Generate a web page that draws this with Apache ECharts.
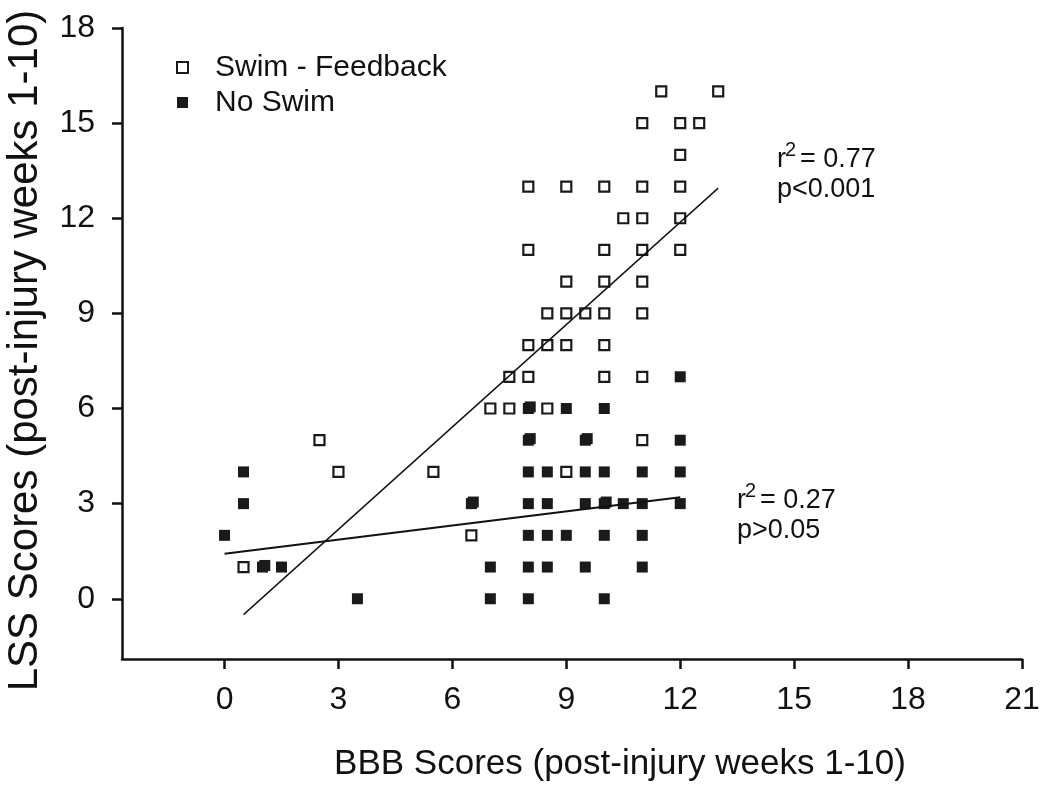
<!DOCTYPE html>
<html>
<head>
<meta charset="utf-8">
<script src="https://cdn.jsdelivr.net/npm/echarts@6/dist/echarts.min.js"></script>
<style>
  html, body { margin: 0; padding: 0; background: #fff; }
  #chart { width: 1050px; height: 791px; }
</style>
</head>
<body>
<div id="chart"></div>
<script>
// ---- Data ----
const xTickValues = [0, 3, 6, 9, 12, 15, 18, 21];
const yTickValues = [0, 3, 6, 9, 12, 15, 18];

// Swim - Feedback (open squares): [BBB, LSS]
const swimFeedback = [
  [0.5, 1], [2.5, 5], [3, 4], [5.5, 4], [6.5, 2], [7, 6], [7.5, 6], [7.5, 7],
  [8, 7], [8, 8], [8, 11], [8, 13], [8.5, 6], [8.5, 8], [8.5, 9],
  [9, 4], [9, 8], [9, 9], [9, 10], [9, 13], [9.5, 9],
  [10, 7], [10, 8], [10, 9], [10, 10], [10, 11], [10, 13], [10.5, 12],
  [11, 5], [11, 7], [11, 9], [11, 10], [11, 11], [11, 12], [11, 13], [11, 15],
  [11.5, 16], [12, 11], [12, 12], [12, 13], [12, 14], [12, 15], [12.5, 15], [13, 16]
];

// No Swim (filled squares): [BBB, LSS]; overlapping pairs appear as slightly larger marks
const noSwim = [
  [0, 2], [0.5, 4], [0.5, 3], [1, 1], [1.06, 1.05], [1.5, 1], [3.5, 0],
  [6.5, 3], [6.55, 3.05], [7, 1], [7, 0],
  [8, 6], [8.05, 6.05], [8, 5], [8.05, 5.05], [8, 4], [8, 3], [8, 2], [8, 1], [8, 0],
  [8.5, 4], [8.5, 3], [8.5, 2], [8.5, 1],
  [9, 6], [9, 2], [9.5, 5], [9.55, 5.05], [9.5, 4], [9.5, 3], [9.5, 1],
  [10, 6], [10, 4], [10, 3], [10.05, 3.05], [10, 2], [10, 0], [10.5, 3],
  [11, 4], [11, 3], [11, 2], [11, 1],
  [12, 7], [12, 5], [12, 4], [12, 3]
];

// Regression line end points
const swimFit = [[0.5, -0.5], [13, 12.95]];
const noSwimFit = [[0, 1.42], [12, 3.2]];

const swimStats = ['0.77', 'p<0.001'];
const noSwimStats = ['0.27', 'p>0.05'];

const FONT = '"Liberation Sans", Arial, Helvetica, sans-serif';

const chart = echarts.init(document.getElementById('chart'), null, { renderer: 'canvas' });

function statText(left, top, r2, p) {
  return [
    { type: 'text', left: left, top: top, style: { text: 'r', font: '27px ' + FONT, fill: '#111' } },
    { type: 'text', left: left + 8, top: top - 6, style: { text: '2', font: '20px ' + FONT, fill: '#111' } },
    { type: 'text', left: left + 23, top: top, style: { text: '= ' + r2, font: '27px ' + FONT, fill: '#111' } },
    { type: 'text', left: left, top: top + 30, style: { text: p, font: '27px ' + FONT, fill: '#111' } }
  ];
}

const option = {
  animation: false,
  backgroundColor: '#ffffff',
  grid: { left: 122, right: 28, top: 28, bottom: 132, containLabel: false, outerBoundsMode: 'none' },
  legend: {
    orient: 'vertical',
    left: 171,
    top: 45,
    itemWidth: 11,
    itemHeight: 11,
    itemGap: 0,
    icon: 'rect',
    data: ['Swim - Feedback', 'No Swim'],
    textStyle: { fontFamily: FONT, fontSize: 30, color: '#111', lineHeight: 25, padding: [0, 0, 10, 22] }
  },
  xAxis: {
    type: 'value',
    min: -2.7,
    max: 21,
    name: 'BBB Scores (post-injury weeks 1-10)',
    nameLocation: 'middle',
    nameGap: 88,
    nameTextStyle: { fontFamily: FONT, fontSize: 35, color: '#111', padding: [0, 0, 0, 96] },
    splitLine: { show: false },
    axisLine: { show: true, onZero: false, lineStyle: { color: '#111', width: 2.5 } },
    axisTick: { show: true, inside: false, length: 10, customValues: xTickValues, lineStyle: { color: '#111', width: 2.5 } },
    axisLabel: { customValues: xTickValues, margin: 25, fontFamily: FONT, fontSize: 32, color: '#111' }
  },
  yAxis: {
    type: 'value',
    min: -1.9,
    max: 18,
    name: 'LSS Scores (post-injury weeks 1-10)',
    nameLocation: 'middle',
    nameGap: 76,
    nameTextStyle: { fontFamily: FONT, fontSize: 42, color: '#111', padding: [0, 14, 0, 0] },
    splitLine: { show: false },
    axisLine: { show: true, onZero: false, lineStyle: { color: '#111', width: 2.5 } },
    axisTick: { show: true, inside: false, length: 10, customValues: yTickValues, lineStyle: { color: '#111', width: 2.5 } },
    axisLabel: { customValues: yTickValues, margin: 27, fontFamily: FONT, fontSize: 32, color: '#111' }
  },
  series: [
    {
      name: 'Swim - Feedback',
      type: 'scatter',
      data: swimFeedback,
      symbol: 'rect',
      symbolSize: 10,
      itemStyle: { color: '#ffffff', borderColor: '#1a1a1a', borderWidth: 2.2, opacity: 1 },
      z: 2
    },
    {
      name: 'No Swim',
      type: 'scatter',
      data: noSwim,
      symbol: 'rect',
      symbolSize: 11,
      itemStyle: { color: '#1a1a1a', borderWidth: 0, opacity: 1 },
      z: 3
    },
    {
      name: 'swimFit',
      type: 'line',
      data: swimFit,
      showSymbol: false,
      symbol: 'none',
      lineStyle: { color: '#111', width: 1.4 },
      silent: true,
      z: 4
    },
    {
      name: 'noSwimFit',
      type: 'line',
      data: noSwimFit,
      showSymbol: false,
      symbol: 'none',
      lineStyle: { color: '#111', width: 2 },
      silent: true,
      z: 4
    }
  ],
  graphic: [].concat(
    statText(777, 146, swimStats[0], swimStats[1]),
    statText(737, 487, noSwimStats[0], noSwimStats[1])
  )
};

chart.setOption(option);
</script>
</body>
</html>
